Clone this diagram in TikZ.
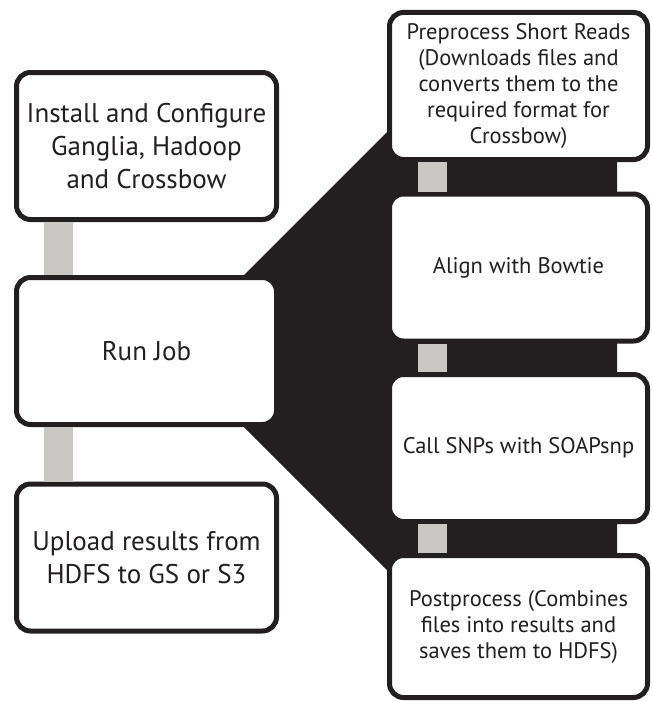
\documentclass[tikz,border=0pt]{standalone}
\usepackage{fontspec}
\setmainfont{PT Sans}
\usetikzlibrary{calc}
\definecolor{inkblack}{HTML}{231F20}
\definecolor{bargray}{HTML}{C8C7C4}
\begin{document}
\begin{tikzpicture}[x=1pt,y=-1pt,
    stage/.style={draw=inkblack,fill=white,line width=5pt,rounded corners=14pt,
                  minimum width=260pt,minimum height=147pt,inner sep=0pt,outer sep=2.5pt,
                  align=center,text=inkblack,font=\fontsize{27}{33}\selectfont},
    substage/.style={stage,minimum width=258pt,font=\fontsize{22.5}{26}\selectfont},
    bar/.style={draw=bargray,line width=29pt}
   ]
\useasboundingbox (0,0) rectangle (651,701);
\fill[inkblack] (243,276) -- (389,130) -- (617,130) -- (617,572) -- (389,572) -- (243,426) -- cycle;

\node[stage] (install) at (146.5,146) {Install and Configure\\Ganglia, Hadoop\\and Crossbow};
\node[stage] (runjob) at (146.5,351) {Run Job};
\node[stage] (upload) at (146.5,557.5) {Upload results from\\HDFS to GS or S3};

\node[substage] (preprocess) at (518.5,86) {Preprocess Short Reads\\(Downloads files and\\converts them to the\\required format for\\Crossbow)};
\node[substage] (align) at (518.5,267.5) {Align with Bowtie};
\node[substage] (callsnp) at (518.5,448) {Call SNPs with SOAPsnp};
\node[substage,minimum height=142pt] (postprocess) at (518.5,626.5) {Postprocess (Combines\\files into results and\\saves them to HDFS)};

\draw[bar] ([xshift=-88pt]install.south) -- ([xshift=-88pt]runjob.north);
\draw[bar] ([xshift=-88pt]runjob.south) -- ([xshift=-88pt]upload.north);
\draw[bar] ([xshift=-86.5pt]preprocess.south) -- ([xshift=-86.5pt]align.north);
\draw[bar] ([xshift=-86.5pt]align.south) -- ([xshift=-86.5pt]callsnp.north);
\draw[bar] ([xshift=-86.5pt]callsnp.south) -- ([xshift=-86.5pt]postprocess.north);
\end{tikzpicture}
\end{document}
